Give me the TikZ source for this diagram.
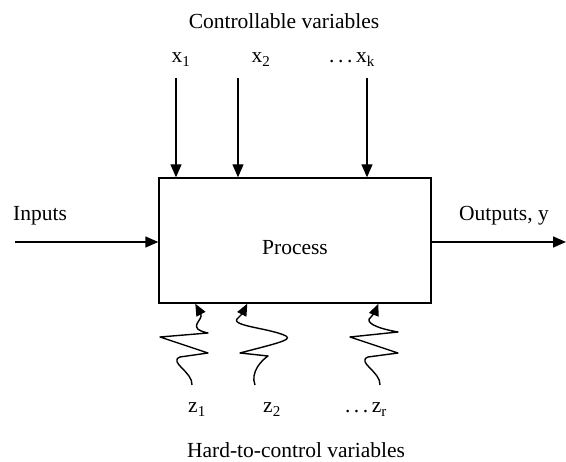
\documentclass[tikz,border=0pt]{standalone}
\usepackage{fontspec}
\setmainfont{Liberation Serif}
\usetikzlibrary{arrows.meta}
\begin{document}
\begin{tikzpicture}[x=1pt, y=1pt]
        \tikzset{
        doe box/.style={draw,line width=1.4pt,minimum width=272pt,minimum height=125pt,inner sep=0},
        doe text/.style={font=\fontsize{21.5}{25}\selectfont,inner sep=0},
        doe arrow/.style={line width=1.4pt,-{Triangle[length=13pt,width=11pt]}},
        doe wiggle/.style={line width=1.4pt,line join=round,-{Triangle[length=12pt,width=10pt]}}
        }
        \useasboundingbox (0,0) rectangle (566,-462);

        \node[doe box] (proc) at (295,-240.5) {};
        \node[doe text, anchor=base] (ptext) at (295,-255) {Process};

        % controllable side
        \node[doe text] (ctitle) at (284,-21) {Controllable variables};
        \node[doe text, anchor=base] (x1) at (181,-63) {x\textsubscript{1}};
        \node[doe text, anchor=base] (x2) at (261,-63) {x\textsubscript{2}};
        \node[doe text, anchor=base] (xk) at (352,-63) {.\,.\,.\,x\textsubscript{k}};
        \coordinate (xs1) at (176,-78);
        \coordinate (xs2) at (238,-78);
        \coordinate (xs3) at (367,-78);

        % inputs and outputs
        \node[doe text, anchor=base] (inl) at (40,-221) {Inputs};
        \node[doe text, anchor=base] (outl) at (504,-221) {Outputs, y};
        \coordinate (inp) at (15,-242);
        \coordinate (outp) at (566,-242);

        % hard-to-control side
        \node[doe text, anchor=base] (z1) at (197,-413) {z\textsubscript{1}};
        \node[doe text, anchor=base] (z2) at (272,-413) {z\textsubscript{2}};
        \node[doe text, anchor=base] (zr) at (366,-413) {.\,.\,.\,z\textsubscript{r}};
        \node[doe text] (htitle) at (296,-450) {Hard-to-control variables};
        \coordinate (zb1) at (192,-385);
        \coordinate (zb2) at (255,-385);
        \coordinate (zb3) at (380,-385);

        \draw[doe arrow] (xs1) -- (xs1 |- proc.north);
        \draw[doe arrow] (xs2) -- (xs2 |- proc.north);
        \draw[doe arrow] (xs3) -- (xs3 |- proc.north);
        \draw[doe arrow] (inp) -- (inp -| proc.west);
        \draw[doe arrow] (outp -| proc.east) -- (outp);

        \draw[doe wiggle] (zb1) .. controls (193,-372) and (168,-362) .. (180,-357)
            -- (208,-353) -- (160,-337) -- (208,-333)
            .. controls (185,-328) and (204,-320) .. ([xshift=37pt]proc.south west);
        \draw[doe wiggle] (zb2) .. controls (250,-372) and (262,-360) .. (268,-356)
            -- (240,-353) .. controls (270,-345) and (294,-340) .. (286,-336)
            .. controls (270,-328) and (228,-326) .. (238,-318)
            .. controls (242,-314) .. ([xshift=89pt]proc.south west);
        \draw[doe wiggle] (zb3) .. controls (381,-372) and (356,-362) .. (368,-357)
            -- (398,-353) -- (350,-337) -- (398,-332)
            .. controls (375,-328) and (364,-322) .. (371,-317)
            .. controls (375,-312) .. ([xshift=220pt]proc.south west);
    \end{tikzpicture}
\end{document}
